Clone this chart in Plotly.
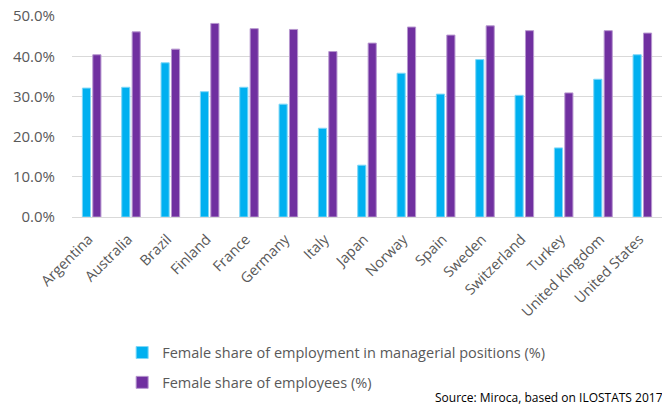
import plotly.graph_objects as go

countries = ["Argentina", "Australia", "Brazil", "Finland", "France", "Germany", "Italy",
             "Japan", "Norway", "Spain", "Sweden", "Switzerland", "Turkey",
             "United Kingdom", "United States"]
managerial = [32.1, 32.3, 38.4, 31.2, 32.3, 28.1, 22.1, 12.9, 35.8, 30.6, 39.2, 30.3, 17.2, 34.3, 40.4]
employees = [40.4, 46.1, 41.8, 48.2, 46.9, 46.7, 41.2, 43.3, 47.3, 45.3, 47.6, 46.4, 30.9, 46.4, 45.8]
y_ticks = [0, 10, 20, 30, 40, 50]
y_tick_labels = ["0.0%", "10.0%", "20.0%", "30.0%", "40.0%", "50.0%"]

FONT = "Open Sans"
GRAY = "#595959"

fig = go.Figure()
fig.add_trace(go.Bar(
    x=countries, y=managerial,
    name="Female share of employment in managerial positions (%)",
    marker=dict(color="#00B0F0", line=dict(color="#7FD7F7", width=1)),
    legendgroup="a",
))
fig.add_trace(go.Bar(
    x=countries, y=employees,
    name="Female share of employees (%)",
    marker=dict(color="#7030A0", line=dict(color="#B797CF", width=1)),
    legendgroup="b",
))

fig.update_layout(
    width=662, height=408,
    margin=dict(l=72, r=0, t=16, b=191),
    paper_bgcolor="white", plot_bgcolor="white",
    barmode="group", bargap=0.47, bargroupgap=0.22,
    font=dict(family=FONT, color=GRAY, size=14),
    showlegend=True,
    legend=dict(
        x=0.085, y=-0.595, xanchor="left", yanchor="top",
        orientation="v", tracegroupgap=8,
        font=dict(family=FONT, size=14.5, color=GRAY),
        bgcolor="rgba(0,0,0,0)",
    ),
    xaxis=dict(
        tickangle=-45, tickfont=dict(family=FONT, size=14.5, color=GRAY),
        showgrid=False, showline=False, ticks="", ticklabelshift=-3,
        ticklabelstandoff=10,
        range=[-0.5, len(countries) - 0.5],
    ),
    yaxis=dict(
        range=[0, 50.05], tickvals=y_ticks, ticktext=y_tick_labels,
        tickfont=dict(family=FONT, size=15, color=GRAY),
        showgrid=True, gridcolor="#D9D9D9", gridwidth=1.3,
        zeroline=True, zerolinecolor="#D9D9D9", zerolinewidth=1.3,
        showline=False, ticks="outside", ticklen=13, tickcolor="white",
    ),
    annotations=[dict(
        text="Source: Miroca, based on ILOSTATS 2017",
        xref="paper", yref="paper", x=0.612, y=-0.896,
        xanchor="left", yanchor="middle", showarrow=False,
        font=dict(family=FONT, size=12, color="black"),
    )],
)

fig.write_html("out.html",
               config={"displayModeBar": False},
               post_script="document.body.style.margin='0';document.body.style.overflow='hidden';")
